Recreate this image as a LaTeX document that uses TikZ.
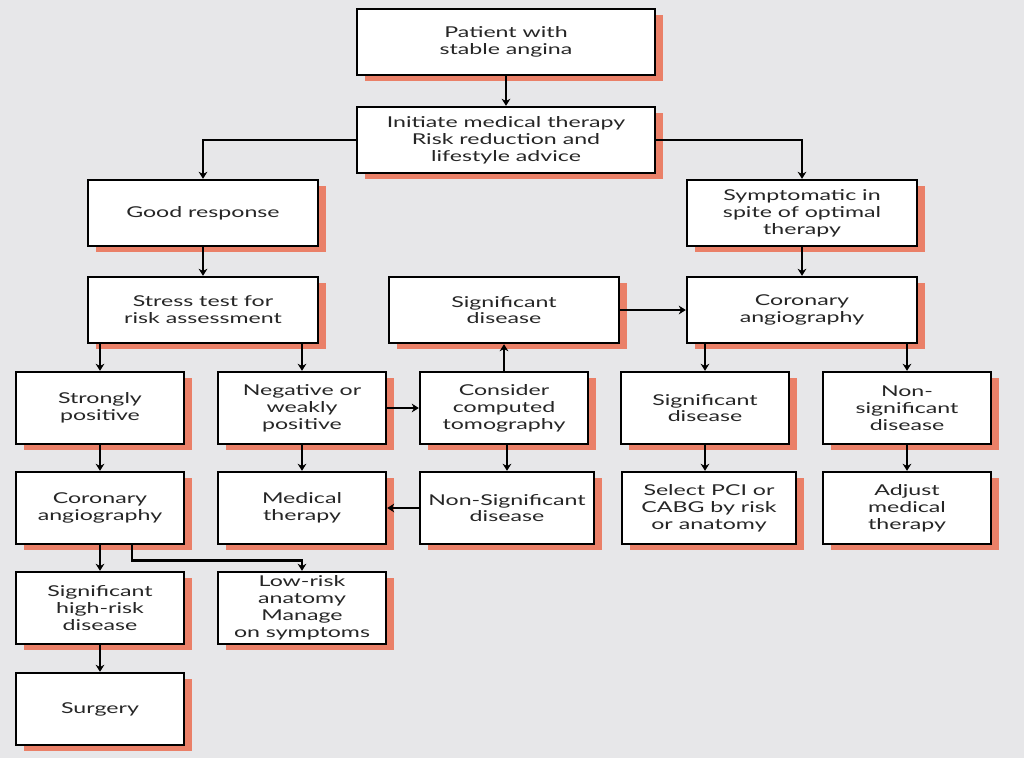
\documentclass[tikz,border=0pt]{standalone}
\usepackage{fontspec}
\setmainfont{Lato}[FakeStretch=1.55]
\usetikzlibrary{shadows,arrows.meta}
\definecolor{paper}{RGB}{231,231,233}
\definecolor{salmon}{RGB}{234,128,104}
\tikzstyle{block} = [rectangle, draw=black, line width=1.4pt, fill=white, align=center,
  inner sep=2pt, text=black!85, font=\fontsize{8.5}{9.6}\selectfont,
  drop shadow={shadow xshift=0.16cm, shadow yshift=-0.12cm, fill=salmon, opacity=1}]
\tikzstyle{wide} = [block, minimum width=5.96cm, minimum height=1.32cm]
\tikzstyle{mid} = [block, minimum width=4.6cm, minimum height=1.32cm]
\tikzstyle{small} = [block, minimum width=3.36cm, minimum height=1.44cm]
\tikzstyle{smallw} = [block, minimum width=3.48cm, minimum height=1.44cm]
\tikzstyle{link} = [line width=1.6pt, -{Stealth[length=4pt,width=5pt]}]
\tikzstyle{hlink} = [line width=0.9pt, -{Stealth[length=4pt,width=5pt]}]

\begin{document}
\begin{tikzpicture}[x=0.02cm, y=-0.02cm]
	\fill[white] (0,0) rectangle (1024,768);
	\fill[paper] (0,0) rectangle (1024,758);
	\useasboundingbox (0,0) rectangle (1024,768);

	% top
	\node [wide] (pat) at (506,42) {Patient with\\stable angina};
	\node [wide] (init) at (506,140) {Initiate medical therapy\\Risk reduction and\\lifestyle advice};
	\node [mid] (good) at (203,213) {Good response};
	\node [mid] (sympt) at (802,213) {Symptomatic in\\spite of optimal\\therapy};
	\node [mid] (stress) at (203,310) {Stress test for\\risk assessment};
	\node [mid] (sigmid) at (504,310) {Significant\\disease};
	\node [mid] (corR) at (802,310) {Coronary\\angiography};

	% middle rows
	\node [small] (strong) at (100,408) {Strongly\\positive};
	\node [small] (neg) at (302,408) {Negative or\\weakly\\positive};
	\node [small] (ct) at (504,408) {Consider\\computed\\tomography};
	\node [small] (sigR) at (705,408) {Significant\\disease};
	\node [small] (nonsig) at (907,408) {Non-\\significant\\disease};
	\node [small] (corL) at (100,508) {Coronary\\angiography};
	\node [small] (med) at (302,508) {Medical\\therapy};
	\node [smallw] (nonsigmid) at (507,508) {Non-Significant\\disease};
	\node [smallw] (pci) at (709,508) {Select PCI or\\CABG by risk\\or anatomy};
	\node [small] (adjust) at (907,508) {Adjust\\medical\\therapy};

	% bottom
	\node [small] (sighigh) at (100,608) {Significant\\high-risk\\disease};
	\node [small] (lowrisk) at (302,608) {Low-risk\\anatomy\\Manage\\on symptoms};
	\node [small] (surgery) at (100,709) {Surgery};

	\draw [link] (pat) -- (init);
	\draw [hlink] (init.west) -| (good.north);
	\draw [hlink] (init.east) -| (sympt.north);
	\draw [link] (good) -- (stress);
	\draw [link] (sympt) -- (corR);
	\draw [link] (strong.north |- stress.south) -- (strong.north);
	\draw [link] (neg.north |- stress.south) -- (neg.north);
	\draw [link] (sigR.north |- corR.south) -- (sigR.north);
	\draw [link] (nonsig.north |- corR.south) -- (nonsig.north);
	\draw [hlink] (sigmid) -- (corR);
	\draw [hlink] (neg) -- (ct);
	\draw [link] (ct) -- (sigmid);
	\draw [link] (ct.south -| nonsigmid.north) -- (nonsigmid.north);
	\draw [hlink] (nonsigmid) -- (med);
	\draw [link] (neg) -- (med);
	\draw [link] (sigR.south) -- (sigR.south |- pci.north);
	\draw [link] (nonsig) -- (adjust);
	\draw [link] (strong) -- (corL);
	\draw [link] (corL) -- (sighigh);
	\draw [link] ([xshift=0.64cm]corL.south) -- ++(0,15) -| (lowrisk.north);
	\draw [link] (sighigh) -- (surgery);
\end{tikzpicture}
\end{document}
